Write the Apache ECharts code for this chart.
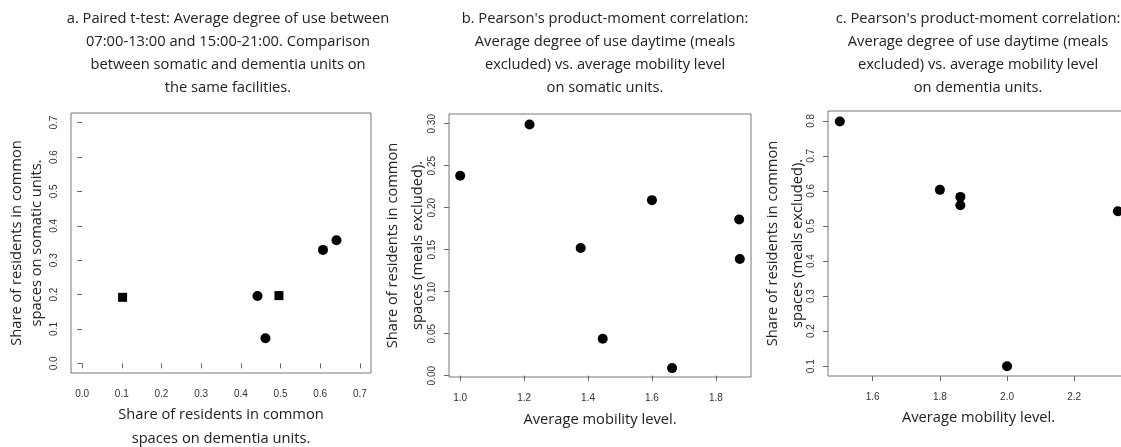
<!DOCTYPE html>
<html>
<head>
<meta charset="utf-8">
<script src="https://cdn.jsdelivr.net/npm/echarts@6/dist/echarts.min.js"></script>
<style>
  html, body { margin: 0; padding: 0; background: #fff; }
  #chart { width: 1121px; height: 447px; }
</style>
</head>
<body>
<div id="chart"></div>
<script>
// panel a: somatic vs dementia units (circles and squares)
const aCircles = [[0.442, 0.196], [0.462, 0.073], [0.607, 0.330], [0.641, 0.358]]
const aSquares = [[0.102, 0.192], [0.496, 0.197]]
// panel b: mobility vs use, somatic units
const bPoints = [[1.0, 0.238], [1.217, 0.299], [1.377, 0.152], [1.446, 0.044], [1.600, 0.209], [1.663, 0.009], [1.873, 0.186], [1.875, 0.139]]
// panel c: mobility vs use, dementia units
const cPoints = [[1.502, 0.798], [1.800, 0.603], [1.861, 0.583], [1.861, 0.559], [2.000, 0.100], [2.330, 0.542]]

const aTicks = [0, 0.1, 0.2, 0.3, 0.4, 0.5, 0.6, 0.7]
const bxTicks = [1.0, 1.2, 1.4, 1.6, 1.8]
const byTicks = [0, 0.05, 0.10, 0.15, 0.20, 0.25, 0.30]
const cxTicks = [1.6, 1.8, 2.0, 2.2]
const cyTicks = [0.1, 0.2, 0.3, 0.4, 0.5, 0.6, 0.7, 0.8]

const titles = [
  'a. Paired t-test: Average degree of use between\n07:00-13:00 and 15:00-21:00. Comparison\nbetween somatic and dementia units on\nthe same facilities.',
  'b. Pearson\'s product-moment correlation:\nAverage degree of use daytime (meals\nexcluded) vs. average mobility level\non somatic units.',
  'c. Pearson\'s product-moment correlation:\nAverage degree of use daytime (meals\nexcluded) vs. average mobility level\non dementia units.',
]

const textFont = '"Open Sans", sans-serif'
const tickFont = '"Liberation Sans", Arial, sans-serif'
const fs = 14.7

const mkAxis = (idx, min, max, ticks, digits, name, gap, lh, isY) => ({
  gridIndex: idx,
  type: 'value',
  min,
  max,
  name,
  nameLocation: 'middle',
  nameGap: gap,
  nameMoveOverlap: false,
  nameTextStyle: { fontFamily: textFont, fontSize: fs, color: '#222', lineHeight: lh },
  splitLine: { show: false },
  axisLine: { show: false },
  axisTick: { show: true, customValues: ticks, length: 5, lineStyle: { color: '#666' } },
  axisLabel: {
    customValues: ticks,
    rotate: isY ? 90 : 0,
    margin: isY ? 12 : 16,
    fontFamily: tickFont,
    fontSize: 10,
    color: '#333',
    formatter: (v) => v.toFixed(digits),
  },
})

const box = { show: true, borderColor: '#777', borderWidth: 1, outerBoundsMode: 'none' }

const chart = echarts.init(document.getElementById('chart'))
chart.setOption({
  animation: false,
  title: titles.map((t, i) => ({
    text: t,
    left: [223, 600, 973][i],
    top: 2,
    textAlign: 'center',
    textStyle: { fontFamily: textFont, fontSize: fs, fontWeight: 'normal', color: '#222', lineHeight: 23 },
  })),
  grid: [
    { ...box, left: 71, top: 113, width: 300, height: 260 },
    { ...box, left: 449, top: 114, width: 302, height: 263 },
    { ...box, left: 828, top: 111, width: 301, height: 265 },
  ],
  xAxis: [
    mkAxis(0, -0.028, 0.728, aTicks, 1, 'Share of residents in common\nspaces on dementia units.', 30, 24, false),
    mkAxis(1, 0.965, 1.91, bxTicks, 1, 'Average mobility level.', 31, 24, false),
    mkAxis(2, 1.4668, 2.3632, cxTicks, 1, 'Average mobility level.', 30, 24, false),
  ],
  yAxis: [
    mkAxis(0, -0.028, 0.728, aTicks, 1, 'Share of residents in common\nspaces on somatic units.', 24, 20, true),
    mkAxis(1, -0.0016, 0.3116, byTicks, 2, 'Share of residents in common\nspaces (meals excluded).', 19, 25, true),
    mkAxis(2, 0.072, 0.828, cyTicks, 1, 'Share of residents in common\nspaces (meals excluded).', 18, 25, true),
  ],
  series: [
    { type: 'scatter', xAxisIndex: 0, yAxisIndex: 0, data: aCircles, symbol: 'circle', symbolSize: 10, itemStyle: { color: '#000', opacity: 1 } },
    { type: 'scatter', xAxisIndex: 0, yAxisIndex: 0, data: aSquares, symbol: 'rect', symbolSize: 9, itemStyle: { color: '#000', opacity: 1 } },
    { type: 'scatter', xAxisIndex: 1, yAxisIndex: 1, data: bPoints, symbol: 'circle', symbolSize: 10, itemStyle: { color: '#000', opacity: 1 } },
    { type: 'scatter', xAxisIndex: 2, yAxisIndex: 2, data: cPoints, symbol: 'circle', symbolSize: 10, itemStyle: { color: '#000', opacity: 1 } },
  ],
})
</script>
</body>
</html>
